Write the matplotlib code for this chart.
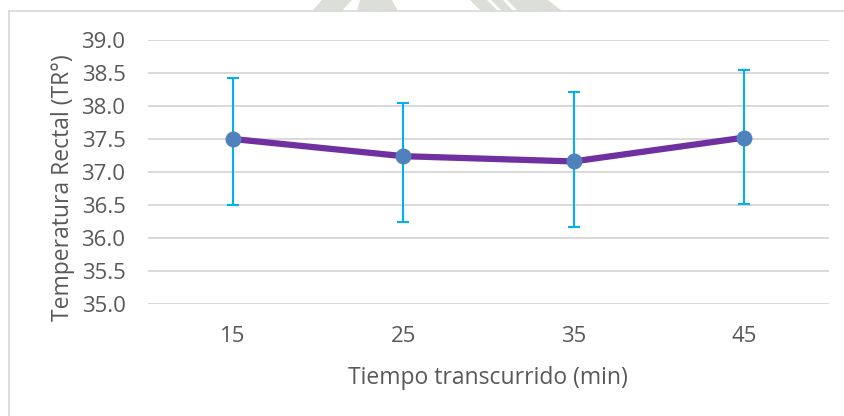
import matplotlib
matplotlib.use("Agg")
import matplotlib.pyplot as plt
from matplotlib.patches import Polygon
from matplotlib.lines import Line2D

# Rectal temperature over elapsed time
minutes = ["15", "25", "35", "45"]
temp_mean = [37.50, 37.24, 37.16, 37.52]
temp_upper = [38.42, 38.04, 38.21, 38.55]
temp_lower = [36.50, 36.24, 36.16, 36.52]
y_ticks = [35.0, 35.5, 36.0, 36.5, 37.0, 37.5, 38.0, 38.5, 39.0]

W, H = 844, 416
plt.rcParams["font.family"] = ["Open Sans", "DejaVu Sans"]
fig = plt.figure(figsize=(W / 100, H / 100), dpi=100)
fig.patch.set_facecolor("white")

# faint logo fragments above the chart frame
logo_color = "#DCDFD7"
shapes = [
    [(322, 0), (352, 0), (342, 11), (312, 11)],
    [(360, 0), (392, 0), (398, 11), (357, 11)],
    [(470, 0), (487, 0), (498, 11), (481, 11)],
    [(491, 0), (503, 0), (513, 11), (502, 11)],
    [(507, 0), (548, 0), (562, 11), (518, 11)],
]
for pts in shapes:
    fig.patches.append(Polygon([(x / W, 1 - y / H) for x, y in pts],
                               closed=True, transform=fig.transFigure,
                               facecolor=logo_color, edgecolor="none", zorder=0))

# chart frame (left and top edges)
frame_color = "#D9D9D9"
fig.lines.append(Line2D([8.7 / W, 8.7 / W], [0, 1 - 11 / H], transform=fig.transFigure,
                        color=frame_color, lw=1.2))
fig.lines.append(Line2D([8.7 / W, 1], [1 - 11 / H, 1 - 11 / H], transform=fig.transFigure,
                        color=frame_color, lw=1.2))

left, right = 147.7 / W, 829.0 / W
top, bottom = 1 - 40.0 / H, 1 - 304.0 / H
ax = fig.add_axes([left, bottom, right - left, top - bottom])
ax.set_facecolor("none")

x = list(range(len(minutes)))
err_low = [m - lo for m, lo in zip(temp_mean, temp_lower)]
err_up = [hi - m for m, hi in zip(temp_mean, temp_upper)]

ax.errorbar(x, temp_mean, yerr=[err_low, err_up], fmt="none", ecolor="#00B0F0",
            elinewidth=1.5, capsize=4.4, capthick=1.5, zorder=2)
ax.plot(x, temp_mean, color="#7030A0", lw=4.5, solid_capstyle="butt", zorder=3)
ax.plot(x, temp_mean, ls="none", marker="o", ms=11.5, color="#4F81BD",
        markeredgewidth=0, zorder=4)

ax.set_xlim(-0.5, len(minutes) - 0.5)
ax.set_ylim(35.0, 39.0)
ax.set_yticks(y_ticks)
ax.set_yticklabels([f"{v:.1f}" for v in y_ticks])
ax.set_xticks(x)
ax.set_xticklabels(minutes)

ax.grid(axis="y", color="#D9D9D9", lw=1.4)
ax.set_axisbelow(True)
for s in ax.spines.values():
    s.set_visible(False)

text_color = "#595959"
ax.tick_params(axis="both", length=0, labelsize=16, colors=text_color)
ax.tick_params(axis="y", pad=16)
ax.tick_params(axis="x", pad=16)

ax.set_ylabel("Temperatura Rectal (TR°)", fontsize=16.5, color=text_color)
ax.yaxis.set_label_coords(-0.107, 0.439)
ax.set_xlabel("Tiempo transcurrido (min)", fontsize=16.5, color=text_color, labelpad=13.5)

fig.savefig("out.png", dpi=100)
